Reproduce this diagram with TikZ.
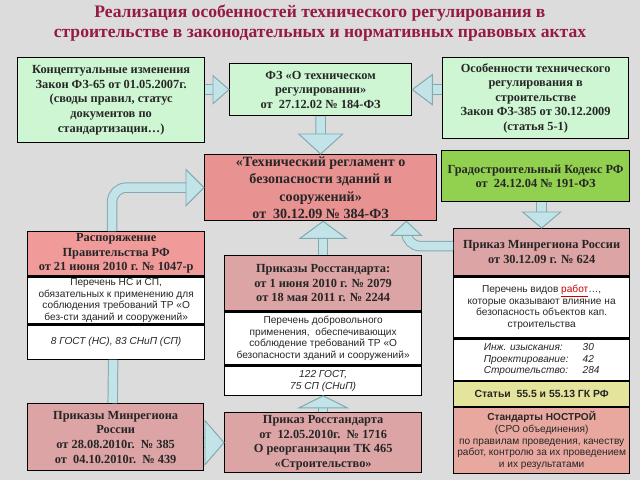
\documentclass[tikz,border=0pt]{standalone}
\usepackage{fontspec}
\setmainfont{Liberation Serif}
\setsansfont{Liberation Sans}
\usetikzlibrary{calc}

\definecolor{bgcol}{RGB}{220,220,220}
\definecolor{titlecol}{RGB}{150,25,70}
\definecolor{palegreen}{RGB}{206,246,210}
\definecolor{lawgreen}{RGB}{146,208,80}
\definecolor{regpink}{RGB}{232,146,146}
\definecolor{ordpink}{RGB}{240,154,154}
\definecolor{dullpink}{RGB}{220,164,164}
\definecolor{salmon}{RGB}{232,168,160}
\definecolor{paleyellow}{RGB}{228,228,156}
\definecolor{arrowfill}{RGB}{194,228,232}
\definecolor{arrowline}{RGB}{130,168,176}

\tikzset{
  box/.style={draw=black, line width=0.9pt, inner sep=1pt, anchor=north west, align=center, text=black!85},
  lawtext/.style={font=\fontsize{8.8}{10.4}\selectfont\bfseries},
  listtext/.style={font=\fontsize{7.2}{8.3}\selectfont\sffamily},
  listitalic/.style={font=\fontsize{7.2}{8.3}\selectfont\sffamily\itshape},
  listbold/.style={font=\fontsize{7.4}{8.3}\selectfont\sffamily\bfseries},
  blockshaft/.style={draw=arrowline, double=arrowfill, double distance=6pt, line width=0.7pt},
  blockhead/.style={draw=arrowline, fill=arrowfill, line width=0.7pt, line join=miter},
}

\begin{document}
\begin{tikzpicture}[x=0.025cm, y=-0.025cm]
  \fill[bgcol] (0,0) rectangle (640,480);
  \useasboundingbox (0,0) rectangle (640,480);

  % title
  \node[text=titlecol, align=center, font=\fontsize{12.5}{14.2}\selectfont\bfseries] (title) at (320,23)
    {Реализация особенностей технического регулирования в\\
     строительстве в законодательных и нормативных правовых актах};

  % laws
  \node[box, lawtext, fill=palegreen, minimum width=4.675cm, minimum height=2.125cm] (A) at (17,57)
    {Концептуальные изменения\\ Закон ФЗ-65 от 01.05.2007г.\\ (своды правил, статус\\ документов по\\ стандартизации…)};
  \node[box, lawtext, fill=palegreen, minimum width=4.55cm, minimum height=1.3cm] (B) at (229,63)
    {ФЗ «О техническом\\ регулировании»\\ от\ \ 27.12.02 № 184-ФЗ};
  \node[box, lawtext, fill=palegreen, minimum width=4.65cm, minimum height=2.025cm] (C) at (442,57)
    {Особенности технического\\ регулирования в\\ строительстве\\ Закон ФЗ-385 от 30.12.2009\\ (статья 5-1)};
  \node[box, fill=regpink, font=\fontsize{10}{12.3}\selectfont\bfseries, minimum width=5.8cm, minimum height=1.65cm] (D) at (204,154)
    {«Технический регламент о\\ безопасности зданий и\\ сооружений»\\ от\ \ 30.12.09 № 384-ФЗ};
  \node[box, lawtext, fill=lawgreen, minimum width=4.7cm, minimum height=1.275cm] (E) at (441,150)
    {Градостроительный Кодекс РФ\\ от\ \ 24.12.04 № 191-ФЗ};

  % left column
  \node[box, lawtext, fill=ordpink, minimum width=4.425cm, minimum height=1.1cm] (F1) at (27,231)
    {Распоряжение\\ Правительства РФ\\ от 21 июня 2010 г. № 1047-р};
  \node[box, listtext, fill=white, minimum width=4.425cm, minimum height=1.075cm] (F2) at (F1.south west)
    {Перечень НС и СП,\\ обязательных к применению для\\ соблюдения требований ТР «О\\ без-сти зданий и сооружений»};
  \node[box, listitalic, fill=white, minimum width=4.425cm, minimum height=0.85cm] (F3) at (F2.south west)
    {8 ГОСТ (НС), 83 СНиП (СП)};
  \node[box, lawtext, fill=dullpink, minimum width=4.4cm, minimum height=1.675cm] (I) at (27,403)
    {Приказы Минрегиона\\ России\\ от 28.08.2010г.\ \ № 385\\ от\ \ 04.10.2010г.\ \ № 439};

  % middle column
  \node[box, lawtext, fill=dullpink, minimum width=4.925cm, minimum height=1.375cm] (G1) at (224,255)
    {Приказы Росстандарта:\\ от 1 июня 2010 г. № 2079\\ от 18 мая 2011 г. № 2244};
  \node[box, listtext, fill=white, minimum width=4.925cm, minimum height=1.325cm] (G2) at (G1.south west)
    {Перечень добровольного\\ применения,\ \ обеспечивающих\\ соблюдение требований ТР «О\\ безопасности зданий и сооружений»};
  \node[box, listitalic, fill=white, minimum width=4.925cm, minimum height=0.725cm] (G3) at (G2.south west)
    {122 ГОСТ,\\ 75 СП (СНиП)};
  \node[box, lawtext, fill=dullpink, minimum width=4.925cm, minimum height=1.5cm] (J) at (224,412)
    {Приказ Росстандарта\\ от\ \ 12.05.2010г.\ \ № 1716\\ О реорганизации ТК 465\\ «Строительство»};

  % right column
  \node[box, lawtext, fill=dullpink, minimum width=4.4cm, minimum height=1.175cm] (H1) at (453,228)
    {Приказ Минрегиона России\\ от 30.12.09 г. № 624};
  \node[box, listtext, fill=white, minimum width=4.4cm, minimum height=1.525cm] (H2) at (H1.south west)
    {Перечень видов \textcolor{red!80!black}{\underline{работ}}…,\\ которые оказывают влияние на\\ безопасность объектов кап.\\ строительства};
  \node[box, listitalic, fill=white, minimum width=4.4cm, minimum height=1.025cm] (H3) at (H2.south west)
    {\begin{tabular}{@{}l@{\hspace{10pt}}l@{}}Инж. изыскания: & 30\\ Проектирование: & 42\\ Строительство: & 284\end{tabular}};
  \node[box, listbold, fill=paleyellow, minimum width=4.4cm, minimum height=0.625cm] (H4) at (H3.south west)
    {Статьи\ \ 55.5 и 55.13 ГК РФ};
  \node[box, listtext, fill=salmon, minimum width=4.4cm, minimum height=1.65cm] (H5) at (H4.south west)
    {\textbf{Стандарты НОСТРОЙ}\\ (СРО объединения)\\ по правилам проведения, качеству\\ работ, контролю за их проведением\\ и их результатами};

  % block arrows
  \draw[blockshaft] (A.east |- B.west) -- ($(B.west)+(-14,0)$);
  \filldraw[blockhead] (B.west) -- ++(-16,-14) -- ++(0,28) -- cycle;
  \draw[blockshaft] (C.west |- B.east) -- ($(B.east)+(18,0)$);
  \filldraw[blockhead] (B.east) -- ++(20,-15) -- ++(0,30) -- cycle;
  \draw[blockshaft] (B.south) -- ($(D.north)+(0,-18)$);
  \filldraw[blockhead] (D.north) -- ++(-22,-20) -- ++(44,0) -- cycle;
  \draw[blockshaft] (H1.north |- E.south) -- ($(H1.north)+(0,-14)$);
  \filldraw[blockhead] (H1.north) -- ++(-19,-16) -- ++(38,0) -- cycle;
  \draw[blockshaft] (G1.north) -- ($(G1.north |- D.south)+(0,15)$);
  \filldraw[blockhead] (G1.north |- D.south) -- ++(-23,17) -- ++(46,0) -- cycle;
  \draw[blockshaft, rounded corners=10pt] ($(H1.west)+(0,-6)$) -| ($(D.south east)+(-31,12)$);
  \filldraw[blockhead] ($(D.south east)+(-31,0)$) -- ++(-15,14) -- ++(30,0) -- cycle;
  \draw[blockshaft, rounded corners=10pt] ($(F1.north)+(-4,0)$) |- ($(D.west)+(-16,0)$);
  \filldraw[blockhead] (D.west) -- ++(-18,-18) -- ++(0,36) -- cycle;
  \draw[blockshaft] ($(I.north)+(-3,0)$) -- ($(F3.south)+(-3,0)$);
  \draw[blockshaft] (I.east |- J.west) -- ($(J.west)+(-17,0)$);
  \filldraw[blockhead] (J.west) -- ++(-19,-22) -- ++(0,44) -- cycle;
  \draw[blockshaft] (J.north) -- ($(G3.south)+(0,10)$);
  \filldraw[blockhead] (G3.south) -- ++(-24,12) -- ++(48,0) -- cycle;
\end{tikzpicture}
\end{document}
